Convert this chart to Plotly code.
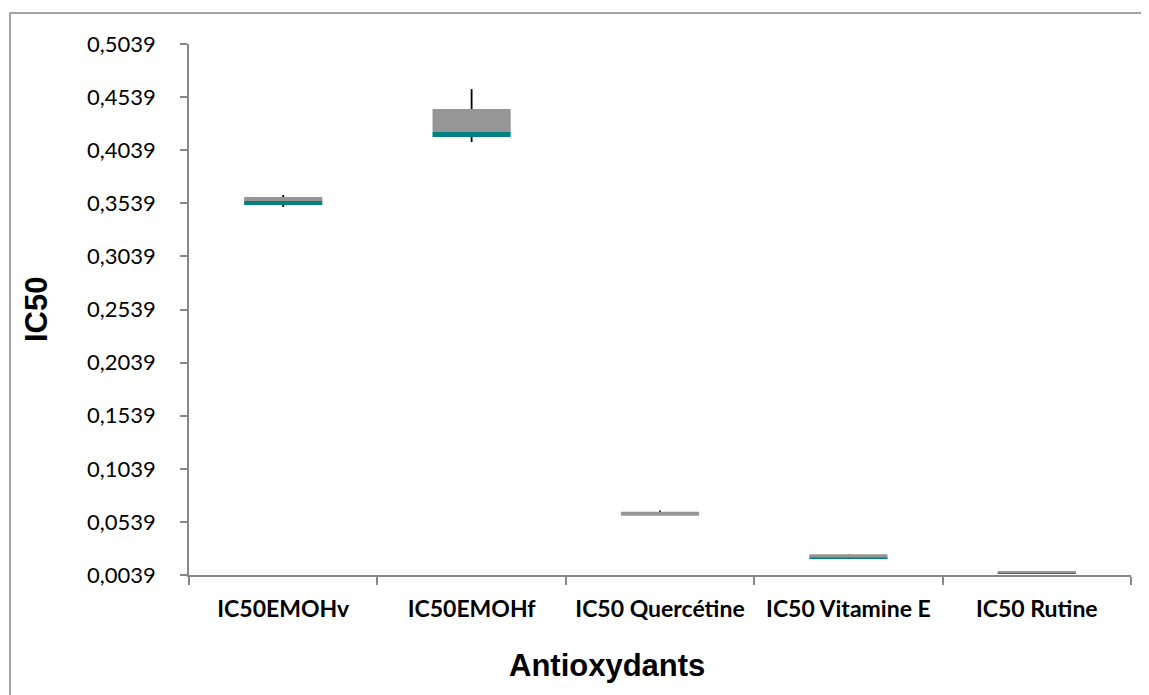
import plotly.graph_objects as go

# ---- data ----
categories = ["IC50EMOHv", "IC50EMOHf", "IC50 Quercétine", "IC50 Vitamine E", "IC50 Rutine"]
q1_vals = [0.3523, 0.4163, 0.0597, 0.0196, 0.0051]
median_vals = [0.3561, 0.4210, 0.0597, 0.0204, 0.0064]
q3_vals = [0.3598, 0.4427, 0.0635, 0.0234, 0.0077]
min_vals = [0.3504, 0.4116, 0.0597, 0.0194, 0.0051]
max_vals = [0.3617, 0.4615, 0.0646, 0.0236, 0.0077]

y_ticks = [0.0039 + 0.05 * k for k in range(11)]

# ---- styles ----
OFF = 8  # page body margin
W, H = 1149 - OFF, 695 - OFF
L, R, T, B = 189 - OFF, 18, 44 - OFF, 120
plot_w = W - L - R
plot_h = H - T - B
AXIS_COL = "#878787"
GRAY = "#969696"
TEAL = "#008080"
BOX_W = 0.415

def px_x(px):  # screen px -> paper
    return (px - OFF - L) / plot_w

def px_y(py):
    return (H - B - (py - OFF)) / plot_h

fig = go.Figure()

# lower part of box (q1 -> median), teal
fig.add_trace(go.Bar(
    x=categories,
    y=[m - q for m, q in zip(median_vals, q1_vals)],
    base=q1_vals,
    width=BOX_W,
    marker=dict(color=TEAL, line=dict(width=0)),
    showlegend=False,
    hoverinfo="skip",
))
# upper part of box (median -> q3), gray
fig.add_trace(go.Bar(
    x=categories,
    y=[q - m for q, m in zip(q3_vals, median_vals)],
    base=median_vals,
    width=BOX_W,
    marker=dict(color=GRAY, line=dict(width=0)),
    showlegend=False,
    hoverinfo="skip",
))

# whiskers
wx, wy = [], []
for c, lo, a, b, hi in zip(categories, min_vals, q1_vals, q3_vals, max_vals):
    wx += [c, c, None, c, c, None]
    wy += [b, hi, None, lo, a, None]
fig.add_trace(go.Scatter(
    x=wx, y=wy, mode="lines",
    line=dict(color="black", width=1.8),
    showlegend=False, hoverinfo="skip", connectgaps=False,
))

fig.update_layout(
    width=W, height=H,
    margin=dict(l=L, r=R, t=T, b=B, pad=0),
    paper_bgcolor="white", plot_bgcolor="white",
    barmode="overlay",
    separators=", ",
    xaxis=dict(
        type="category",
        range=[-0.5, len(categories) - 0.5],
        showgrid=False, zeroline=False,
        showline=True, linecolor=AXIS_COL, linewidth=1.5,
        ticks="outside", tickson="boundaries", ticklen=8,
        tickcolor=AXIS_COL, tickwidth=1.5,
        tickangle=0,
        tickfont=dict(family="Lato", size=23, color="black", weight="bold"),
        ticklabelstandoff=13,
    ),
    yaxis=dict(
        range=[y_ticks[0], y_ticks[-1]],
        tickmode="array", tickvals=y_ticks,
        ticktext=[f"{v:.4f}".replace(".", ",") for v in y_ticks],
        showgrid=False, zeroline=False,
        showline=True, linecolor=AXIS_COL, linewidth=1.5,
        ticks="outside", ticklen=7, tickcolor=AXIS_COL, tickwidth=1.5,
        tickfont=dict(family="Lato", size=22, color="black"),
        ticklabelstandoff=20,
    ),
    shapes=[dict(
        type="rect", xref="paper", yref="paper",
        x0=px_x(10), x1=px_x(1170), y0=px_y(720), y1=px_y(13),
        line=dict(color=AXIS_COL, width=1.5), fillcolor="rgba(0,0,0,0)",
        layer="below",
    )],
    annotations=[
        dict(text="<b>Antioxydants</b>", xref="paper", yref="paper",
             x=px_x(607), y=px_y(665), showarrow=False,
             xanchor="center", yanchor="middle",
             font=dict(family="Liberation Sans", size=31, color="black")),
        dict(text="<b>IC50</b>", xref="paper", yref="paper",
             x=px_x(36), y=px_y(310), showarrow=False, textangle=-90,
             xanchor="center", yanchor="middle",
             font=dict(family="Liberation Sans", size=31, color="black")),
    ],
)

fig.write_html("out.html")
